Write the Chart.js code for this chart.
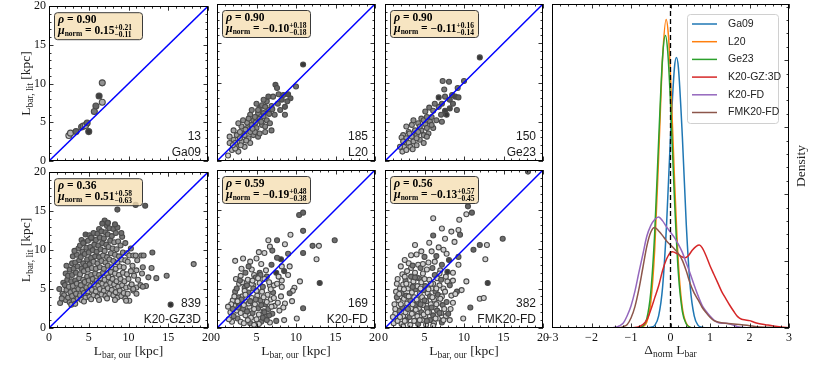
<!DOCTYPE html>
<html>
<head>
<meta charset="utf-8">
<script src="https://cdn.jsdelivr.net/npm/chart.js@4.4.0/dist/chart.umd.min.js"></script>
<style>
  body { margin: 0; background: #fff; width: 831px; height: 365px; overflow: hidden; position: relative; }
  canvas { position: absolute; }
</style>
</head>
<body>
<script>
var serif = "'Liberation Serif', 'DejaVu Serif', serif";
var sans = "'Liberation Sans Narrow', 'Liberation Sans', sans-serif";

// ---- scatter panels: labels and stats
var panelNames = ['Ga09', 'L20', 'Ge23', 'K20-GZ3D', 'K20-FD', 'FMK20-FD'];
var panelCounts = ['13', '185', '150', '839', '169', '382'];
var rhoVals = ['0.90', '0.90', '0.90', '0.36', '0.59', '0.56'];
var muVals = ['0.15', '\u22120.10', '\u22120.11', '0.51', '\u22120.19', '\u22120.13'];
var muUp = ['+0.21', '+0.18', '+0.16', '+0.58', '+0.48', '+0.57'];
var muLo = ['\u22120.11', '\u22120.18', '\u22120.14', '\u22120.63', '\u22120.38', '\u22120.45'];
var axisTicks = [0, 5, 10, 15, 20];
var oneToOne = [0, 20];

// points: [L_bar,our, L_bar,lit, grey tone of marker]
var ga09Pts = [[2.5,3.3,.95],[2.7,3.6,.8],[3.4,3.8,.35],[4.1,4.4,.45],[4.3,4.5,.45],[4.6,4.6,.95],[4.8,4.9,.35],
  [5.0,3.8,.1],[5.7,6.4,.45],[5.9,7.1,.35],[6.3,8.4,.15],[6.7,10.1,.6],[6.7,7.6,.75]];

var l20Pts = [[10.9,12.3,.1],[7.4,9.7,.3],[10.0,9.5,.4],[7.8,8.5,.4],[7.1,8.2,.45],[8.2,7.8,.3],[9.3,8.0,.3],[9.0,8.5,.25],
  [8.6,6.9,.3],[8.6,5.9,.45],[7.7,7.3,.4],[6.9,7.0,.5],[6.3,7.6,.45],[5.9,7.8,.45],[6.5,6.5,.45],[5.4,6.7,.45],[5.2,6.1,.5],
  [6.9,3.9,.45],[4.2,5.9,.55],[4.6,5.2,.5],[5.7,4.6,.55],[6.1,3.7,.6],[5.0,4.2,.55],[3.8,4.2,.6],[3.1,4.4,.65],[3.3,3.5,.7],
  [2.5,3.3,.65],[2.1,2.7,.7],[1.6,2.3,.75],[1.4,0.7,.95],[1.9,1.4,.8],[2.5,1.8,.7],[3.1,2.5,.7],[4.0,2.9,.65],[4.6,3.3,.6],
  [5.2,3.1,.55],[4.2,2.3,.7],[3.5,1.8,.75],[2.7,1.2,.8],[2.3,1.6,.8],[2.9,3.7,.7],[3.8,4.9,.6],[4.4,4.6,.55],[4.8,5.6,.5],
  [5.4,5.4,.5],[5.9,6.1,.45],[6.3,5.2,.5],[5.2,6.5,.5],[5.7,7.1,.45],[6.5,8.2,.35],[7.6,9.3,.35],[8.0,6.5,.4],[7.3,5.9,.45],
  [6.7,4.8,.5],[6.1,4.4,.55],[3.3,5.2,.6],[2.7,4.8,.65],[2.1,3.9,.7],[1.6,3.1,.75],[2.3,2.3,.75],[2.9,2.9,.7],[3.5,3.3,.7],
  [4.2,3.7,.6],[4.8,3.7,.6],[5.4,3.5,.55],[4.0,5.4,.55],[4.4,6.5,.5],[5.0,7.3,.45],[6.1,6.9,.45],[8.4,8.4,.3],[8.9,7.6,.35],
  [3.0,2.0,.75],[3.7,2.6,.7],[4.5,4.1,.6],[5.6,5.0,.5],[2.0,2.0,.8],[3.6,4.0,.65],[4.9,4.9,.55],[6.6,6.0,.45],[7.0,6.6,.4],[5.9,5.7,.5]];

var ge23Pts = [[12.0,13.2,.1],[7.3,10.2,.45],[8.1,10.1,.4],[10.0,10.2,.4],[7.5,9.1,.45],[9.2,9.3,.4],[6.8,8.1,.1],[7.6,8.2,.4],
  [8.5,8.4,.3],[8.9,8.2,.2],[9.3,8.1,.3],[8.2,7.8,.3],[7.2,7.3,.35],[8.2,6.7,.2],[7.6,6.4,.15],[7.8,5.9,.1],[7.1,5.9,.4],
  [6.8,6.9,.45],[5.6,6.8,.45],[6.1,6.4,.5],[5.1,6.3,.5],[4.6,5.4,.55],[6.5,5.2,.5],[7.2,5.0,.45],[5.7,5.0,.55],[5.1,4.7,.6],
  [4.2,4.8,.6],[3.4,4.6,.65],[3.8,3.9,.65],[4.6,3.9,.6],[5.3,4.2,.55],[6.1,4.2,.55],[3.0,3.7,.7],[2.3,3.3,.7],[2.1,3.0,.75],
  [2.7,2.9,.7],[3.4,3.1,.7],[4.0,3.3,.65],[4.9,3.3,.6],[5.5,3.5,.6],[4.4,2.7,.65],[3.6,2.5,.7],[3.0,2.3,.75],[2.3,2.5,.75],
  [2.4,1.8,.8],[2.2,1.2,.8],[3.2,1.8,.75],[4.0,2.0,.7],[4.9,2.3,.65],[4.2,3.7,.6],[4.9,5.2,.55],[5.9,5.6,.5],[5.3,5.6,.5],
  [4.4,4.4,.6],[3.6,5.2,.6],[9.1,6.5,.4],[8.6,7.3,.35],[6.3,7.3,.45],[2.7,4.4,.7],[1.9,1.8,.8],[2.7,1.4,.8],[3.5,1.5,.75],
  [4.0,2.9,.65],[3.1,3.5,.7],[5.9,4.6,.55],[5.3,3.1,.6]];

var gz3dPts = [[1.4,3.2,.62],[1.7,4.4,.62],[1.3,5.0,.45],[1.8,5.8,.45],
  [2.1,3.6,.62],[1.9,4.2,.62],[2.2,4.9,.62],[2.0,5.5,.45],[2.3,6.2,.45],[2.1,7.0,.45],
  [2.6,3.3,.62],[2.4,3.9,.62],[2.7,4.6,.62],[2.5,5.3,.62],[2.8,6.0,.45],[2.4,6.7,.45],[2.6,7.5,.45],[2.9,8.3,.45],
  [3.1,3.5,.62],[2.9,4.1,.62],[3.2,4.8,.62],[3.0,5.4,.62],[3.3,6.1,.45],[2.9,6.8,.45],[3.1,7.6,.45],[3.3,8.4,.45],[3.0,9.2,.45],
  [3.6,3.8,.62],[3.4,4.4,.62],[3.7,5.0,.62],[3.5,5.7,.62],[3.8,6.4,.62],[3.4,7.1,.45],[3.6,7.9,.45],[3.8,8.7,.45],[3.5,9.4,.45],[3.7,10.2,.45],
  [4.1,3.6,.78],[3.9,4.2,.62],[4.2,4.9,.62],[4.0,5.5,.62],[4.3,6.2,.62],[3.9,6.9,.62],[4.1,7.6,.45],[4.3,8.3,.45],[4.0,9.1,.45],[4.2,9.8,.45],[3.9,10.6,.45],[4.1,11.3,.45],
  [4.6,3.9,.78],[4.4,4.5,.62],[4.7,5.2,.62],[4.5,5.9,.62],[4.8,6.6,.62],[4.4,7.3,.62],[4.6,8.0,.45],[4.8,8.8,.45],[4.5,9.5,.45],[4.7,10.3,.45],[4.4,11.0,.45],[4.6,12.0,.3],
  [5.1,4.0,.78],[4.9,4.7,.78],[5.2,5.4,.62],[5.0,6.1,.62],[5.3,6.8,.62],[4.9,7.5,.62],[5.1,8.2,.45],[5.3,9.0,.45],[5.0,9.7,.45],[5.2,10.4,.45],[4.9,11.2,.45],[5.1,11.9,.4],
  [5.6,4.2,.78],[5.4,4.9,.78],[5.7,5.6,.78],[5.5,6.3,.62],[5.8,7.0,.62],[5.4,7.7,.62],[5.6,8.5,.62],[5.8,9.2,.45],[5.5,10.0,.45],[5.7,10.7,.45],[5.4,11.5,.45],[5.6,12.2,.4],
  [6.1,4.0,.78],[5.9,4.7,.78],[6.2,5.4,.78],[6.0,6.1,.62],[6.3,6.8,.62],[5.9,7.6,.62],[6.1,8.3,.62],[6.3,9.1,.45],[6.0,9.8,.45],[6.2,10.6,.45],[5.9,11.3,.45],[6.1,12.1,.4],[6.3,12.7,.4],
  [6.6,4.3,.78],[6.4,5.0,.78],[6.7,5.7,.78],[6.5,6.4,.78],[6.8,7.1,.62],[6.4,7.8,.62],[6.6,8.6,.62],[6.8,9.3,.62],[6.5,10.1,.45],[6.7,10.9,.45],[6.4,11.6,.45],[6.6,12.4,.4],
  [7.1,4.1,.78],[6.9,4.8,.78],[7.2,5.5,.78],[7.0,6.2,.78],[7.3,6.9,.78],[6.9,7.6,.62],[7.1,8.4,.62],[7.3,9.1,.62],[7.0,9.9,.62],[7.2,10.7,.45],[6.9,11.5,.45],[7.1,12.3,.4],[7.3,13.1,.4],[7.0,13.8,.35],
  [7.6,4.4,.78],[7.4,5.1,.78],[7.7,5.8,.78],[7.5,6.5,.78],[7.8,7.2,.78],[7.4,8.0,.62],[7.6,8.8,.62],[7.8,9.6,.62],[7.5,10.4,.62],[7.7,11.2,.45],[7.4,12.0,.45],[7.6,12.8,.4],[7.4,13.5,.35],
  [8.1,4.2,.78],[7.9,4.9,.78],[8.2,5.6,.78],[8.0,6.3,.78],[8.3,7.0,.78],[7.9,7.8,.78],[8.1,8.6,.62],[8.3,9.4,.62],[8.0,10.2,.62],[8.2,11.0,.62],[7.9,11.8,.45],[8.1,12.7,.4],
  [8.6,3.9,.78],[8.4,4.6,.78],[8.7,5.3,.78],[8.5,6.0,.78],[8.8,6.8,.78],[8.4,7.6,.78],[8.6,8.4,.78],[8.8,9.2,.62],[8.5,10.1,.62],[8.7,11.1,.62],[8.4,12.2,.45],[8.6,12.9,.4],
  [9.1,4.1,.78],[8.9,4.8,.78],[9.2,5.5,.78],[9.0,6.3,.78],[9.3,7.1,.78],[8.9,7.9,.78],[9.1,8.8,.78],[9.3,9.7,.62],[9.0,10.6,.62],[9.2,11.7,.45],
  [9.6,3.8,.78],[9.4,4.5,.78],[9.7,5.2,.78],[9.5,6.0,.78],[9.8,6.9,.78],[9.4,7.8,.78],[9.6,8.7,.78],[9.8,9.6,.78],
  [10.1,3.5,.82],[9.9,4.4,.78],[10.2,5.3,.78],[10.0,6.3,.78],[10.3,7.3,.78],[9.9,8.5,.78],[10.1,9.3,.78],
  [10.6,4.8,.78],[10.4,5.6,.78],[10.7,6.7,.78],[10.5,8.0,.78],[10.6,9.3,.7],
  [11.0,5.2,.78],[11.2,6.2,.78],[11.0,7.4,.78],[11.1,8.7,.7],[10.9,9.3,.7],
  [11.5,5.5,.7],[11.7,7.0,.7],[11.6,9.3,.6],
  [8.6,15.2,.3],[12.1,15.7,.3],[10.9,15.8,.35],[7.4,13.5,.35],[13.0,9.7,.4],[11.9,9.3,.55],[11.8,7.8,.6],[12.9,7.7,.6],
  [12.5,6.5,.6],[12.2,5.4,.6],[11.8,5.3,.6],[11.0,4.4,.7],[9.7,3.5,.8],[10.6,5.0,.7],[13.5,6.4,.6],[14.8,6.7,.55],
  [18.2,8.2,.6],[15.3,3.0,.05],
  [2.8,3.0,.7],[3.3,3.1,.75],[4.4,3.4,.78],[5.3,3.7,.78],[6.3,3.6,.8],[7.3,3.8,.8],[8.3,3.6,.8],[1.6,3.8,.6],[2.2,8.0,.45],
  [3.2,9.9,.45],[4.3,10.9,.4],[5.3,11.6,.4],[6.7,13.4,.35],[8.3,13.3,.35],[9.1,12.2,.4],[9.6,10.9,.5],[10.3,10.2,.5]];

var k20fdPts = [[10.4,14.3,.35],[10.9,14.6,.35],[10.9,12.3,.4],[9.3,11.8,.95],[6.5,11.1,.95],[7.6,11.1,.4],[6.7,10.3,.95],
  [8.6,10.6,.95],[5.3,9.6,.95],[12.1,10.4,.4],[12.9,10.4,.95],[14.9,11.1,.4],[10.9,9.5,.35],[12.6,8.7,.95],[9.0,9.4,.45],
  [8.1,8.7,.1],[7.6,8.9,.4],[6.9,8.0,.35],[5.6,8.1,.95],[4.2,8.4,.95],[3.1,7.5,.95],[4.7,6.7,.95],[5.4,7.0,.4],[7.5,7.0,.1],
  [8.5,7.2,.2],[9.0,6.7,.95],[9.2,7.8,.95],[8.2,7.8,.95],[6.3,6.5,.45],[6.7,5.4,.95],[7.2,5.4,.95],[8.2,5.2,.95],[10.5,5.9,.95],
  [9.8,5.1,.95],[9.6,4.7,.95],[9.2,4.4,.4],[8.1,4.0,.95],[8.6,3.1,.95],[10.9,2.5,.4],[10.1,1.2,.95],[8.5,1.0,.95],[13.0,5.7,.15],
  [7.8,6.5,.95],[4.6,5.4,.95],
  [2.0,3.5,.95],[2.3,4.6,.5],[2.5,2.2,.95],[2.6,1.2,.5],[2.8,5.6,.95],[2.9,3.0,.45],[3.0,0.8,.95],[3.2,4.0,.95],[3.3,2.4,.5],
  [3.5,5.1,.45],[3.6,1.6,.95],[3.7,3.3,.95],[3.9,6.1,.95],[4.0,4.5,.45],[4.1,2.7,.95],[4.2,0.6,.5],[4.4,3.8,.95],[4.5,1.9,.45],
  [4.6,5.0,.5],[4.8,3.0,.95],[4.9,6.4,.45],[5.0,1.1,.95],[5.1,4.1,.95],[5.2,2.5,.45],[5.4,5.7,.95],[5.5,3.5,.5],[5.6,0.8,.45],
  [5.7,4.6,.95],[5.9,2.1,.95],[6.0,6.2,.95],[6.1,3.0,.4],[6.2,1.4,.5],[6.4,4.2,.95],[6.5,2.4,.45],[6.7,0.7,.95],[6.8,3.6,.95],
  [7.0,1.8,.45],[7.1,4.5,.45],[7.3,2.8,.95],[7.5,0.9,.45],[1.7,2.0,.95],[1.9,0.8,.95],[2.2,2.8,.95],[2.4,6.2,.95],[2.7,3.9,.45],
  [3.0,6.6,.95],[3.4,0.6,.95],[3.8,2.1,.45],[4.3,1.3,.95],[4.7,0.4,.95],[5.3,1.7,.95],[5.8,5.2,.45],[6.6,5.8,.95],[3.1,3.6,.5],
  [4.0,3.1,.95],[4.9,3.6,.5],[5.5,6.7,.45],[2.1,1.5,.5],[1.5,1.1,.95],[3.5,4.7,.95],[6.3,3.3,.95],[7.7,3.2,.95],[7.9,2.2,.95],
  [8.2,6.0,.95],[4.4,7.4,.95],[3.6,7.0,.45],[5.0,8.8,.95],[6.0,9.5,.95],[7.0,9.8,.45],[6.2,7.3,.95],[2.3,8.5,.95],
  [1.8,3.0,.95],[2.2,4.0,.95],[2.5,5.0,.45],[2.7,2.6,.5],[3.0,1.9,.95],[3.2,5.8,.95],[3.4,2.9,.95],[3.6,4.2,.95],[3.9,1.0,.95],
  [4.2,3.4,.45],[4.4,5.6,.95],[4.7,2.4,.95],[5.0,4.7,.95],[5.3,0.5,.95],[5.6,2.9,.45],[5.8,1.3,.4],[6.0,2.0,.4],[6.3,1.0,.45],
  [6.6,1.6,.4],[6.9,2.7,.95],[7.2,3.8,.95],[5.9,3.9,.95],[3.8,5.4,.45],[2.6,3.4,.95],[2.0,2.4,.5],[4.5,6.0,.95],[5.2,6.3,.95],
  [6.8,4.9,.95],[7.6,5.6,.95],[8.4,2.6,.95],[9.5,3.4,.95],[3.3,8.8,.95],[4.0,7.8,.45],[1.4,2.7,.95],[2.9,6.0,.45]];

var fmk20Pts = [[18.1,19.8,.4],[10.5,15.4,.35],[10.3,14.4,.95],[11.0,14.6,.35],[9.4,13.7,.95],[6.1,13.9,.95],[7.2,12.6,.95],
  [9.3,12.4,.95],[9.5,11.8,.4],[8.4,12.2,.95],[6.1,11.7,.4],[7.6,11.3,.95],[3.8,10.5,.95],[4.6,9.7,.95],[5.9,9.7,.95],
  [6.8,10.2,.95],[12.0,10.5,.35],[12.9,10.5,.95],[14.9,11.3,.4],[11.2,9.9,.35],[12.7,8.7,.95],[2.5,8.6,.95],[9.3,9.0,.4],
  [8.1,8.6,.2],[7.2,8.0,.4],[7.9,7.1,.1],[8.6,7.0,.95],[9.3,8.0,.95],[10.3,5.9,.95],[13.0,5.7,.15],[9.7,4.8,.95],[9.1,4.6,.4],
  [12.0,3.7,.95],[12.5,3.8,.95],[10.8,2.6,.4],[9.9,1.2,.95],[8.2,1.0,.95],[5.0,9.0,.45],[5.6,10.8,.95],[4.2,8.0,.95],
  [3.3,7.6,.95],[6.5,9.1,.4],[7.8,9.4,.95],
  [1.1,0.6,.95],[1.3,1.8,.95],[1.2,3.0,.95],[1.4,4.6,.95],
  [1.6,0.9,.95],[1.8,2.2,.5],[1.7,3.5,.95],[1.9,5.0,.95],[1.6,6.2,.95],
  [2.1,0.5,.95],[2.3,1.5,.95],[2.2,2.6,.45],[2.4,3.7,.95],[2.1,4.4,.5],[2.3,5.5,.95],[2.2,6.8,.95],
  [2.7,1.0,.5],[2.6,2.0,.95],[2.8,3.1,.95],[2.7,4.1,.45],[2.9,5.0,.95],[2.6,6.0,.45],[2.8,7.2,.95],
  [3.2,0.4,.95],[3.1,1.4,.45],[3.3,2.5,.95],[3.2,3.5,.5],[3.4,4.5,.95],[3.1,5.5,.95],[3.3,6.5,.45],
  [3.7,0.9,.95],[3.6,1.9,.95],[3.8,2.9,.45],[3.7,3.9,.95],[3.9,4.9,.45],[3.6,5.9,.95],[3.8,7.0,.95],
  [4.2,0.5,.45],[4.1,1.5,.95],[4.3,2.4,.95],[4.2,3.3,.45],[4.4,4.3,.95],[4.1,5.3,.95],[4.3,6.3,.45],
  [4.7,1.0,.95],[4.6,2.0,.45],[4.8,2.9,.95],[4.7,3.9,.95],[4.9,4.8,.45],[4.6,5.8,.95],[4.8,6.9,.95],
  [5.2,0.4,.95],[5.1,1.5,.95],[5.3,2.5,.45],[5.2,3.4,.95],[5.4,4.4,.95],[5.1,5.3,.45],[5.3,7.4,.95],
  [5.7,1.0,.45],[5.6,2.0,.95],[5.8,3.0,.95],[5.7,4.0,.45],[5.9,5.0,.95],[5.6,6.1,.95],
  [6.2,0.6,.95],[6.1,1.6,.4],[6.3,2.6,.95],[6.2,3.6,.95],[6.4,4.6,.45],[6.1,5.6,.95],[6.3,6.7,.45],
  [6.7,1.2,.95],[6.6,2.2,.45],[6.8,3.2,.95],[6.7,4.2,.4],[6.9,5.4,.95],[6.6,6.3,.95],
  [7.2,0.7,.4],[7.1,1.9,.95],[7.3,2.9,.45],[7.2,4.0,.95],[7.4,5.0,.95],[7.1,6.1,.45],
  [7.7,1.5,.95],[7.8,3.3,.45],[7.6,4.6,.95],[7.9,5.9,.95],
  [8.3,2.4,.95],[8.4,4.1,.95],[8.2,5.4,.45],
  [2.0,7.8,.95],[3.0,8.2,.95],[4.0,9.3,.95],[4.5,7.6,.45],[5.5,8.3,.95],[6.0,7.6,.45],[7.0,7.3,.95],[3.5,7.9,.45],
  [1.5,5.6,.95],[2.5,6.5,.95],
  [1.3,2.4,.95],[1.5,3.9,.5],[1.9,1.4,.95],[2.0,3.0,.95],[2.4,4.9,.95],[2.5,0.9,.95],[2.9,2.4,.5],[3.0,4.0,.95],[3.4,1.8,.95],
  [3.5,3.0,.95],[3.5,5.2,.45],[3.9,2.3,.95],[4.0,3.6,.95],[4.0,6.4,.95],[4.4,1.0,.95],[4.5,3.0,.45],[4.5,5.0,.95],[4.9,1.7,.95],
  [5.0,3.5,.45],[5.0,6.2,.95],[5.4,2.0,.95],[5.5,4.9,.95],[5.9,2.6,.45],[6.0,3.9,.95],[6.4,1.2,.95],[6.5,3.0,.95],[6.5,5.0,.95],
  [6.9,1.9,.45],[7.0,3.7,.95],[7.5,2.4,.95],[7.4,1.0,.95],[8.0,1.8,.4],[8.6,3.2,.95],[1.8,4.3,.95],[2.7,5.6,.95],[3.8,6.4,.45],
  [5.8,5.6,.95],[6.9,6.9,.95],[7.7,6.5,.95],[8.6,6.0,.95],[8.9,4.3,.95],[3.3,9.2,.95],[4.8,8.1,.95],[6.3,8.4,.95],[7.4,9.9,.95],
  [8.8,10.9,.95],[5.3,0.9,.45],[6.1,0.3,.95],[2.3,0.2,.95],[1.0,1.4,.95]];

var panelPts = [ga09Pts, l20Pts, ge23Pts, gz3dPts, k20fdPts, fmk20Pts];

// ---- KDE panel
var kdeNames = ['Ga09', 'L20', 'Ge23', 'K20-GZ:3D', 'K20-FD', 'FMK20-FD'];
var kdeColors = ['#1f77b4', '#ff7f0e', '#2ca02c', '#d62728', '#9467bd', '#8c564b'];
var kdeTicks = [-3, -2, -1, 0, 1, 2, 3];

var ga09KdeX = [-0.6, -0.5, -0.4, -0.3, -0.2, -0.1, 0, 0.1, 0.15, 0.2, 0.3, 0.4, 0.5, 0.6, 0.7, 0.8, 0.9];
var ga09KdeY = [0, 0.01, 0.04, 0.18, 0.61, 1.54, 2.86, 3.89, 4.04, 3.89, 2.86, 1.54, 0.61, 0.18, 0.04, 0.01, 0];
var l20KdeX = [-0.8, -0.7, -0.6, -0.5, -0.4, -0.3, -0.2, -0.11, -0.05, 0, 0.1, 0.2, 0.3, 0.4, 0.5, 0.6];
var l20KdeY = [0, 0.02, 0.09, 0.38, 1.17, 2.56, 4.04, 4.61, 4.35, 3.78, 2.24, 0.96, 0.30, 0.07, 0.01, 0];
var ge23KdeX = [-0.8, -0.7, -0.6, -0.5, -0.4, -0.3, -0.2, -0.13, -0.07, 0, 0.1, 0.2, 0.3, 0.4, 0.5, 0.6];
var ge23KdeY = [0, 0.03, 0.14, 0.53, 1.42, 2.80, 4.05, 4.37, 4.13, 3.37, 1.93, 0.81, 0.25, 0.06, 0.01, 0];
var gz3dKdeX = [-1.0, -0.86, -0.7, -0.6, -0.5, -0.4, -0.3, -0.2, -0.1, 0, 0.05, 0.1, 0.2, 0.3, 0.37, 0.45, 0.55, 0.65, 0.73,
  0.8, 0.9, 1.0, 1.1, 1.2, 1.3, 1.4, 1.5, 1.6, 1.7, 1.8, 1.9, 2.0, 2.1, 2.2, 2.4, 2.6, 2.8, 3.0];
var gz3dKdeY = [0, 0.01, 0.05, 0.12, 0.27, 0.45, 0.63, 0.86, 1.03, 1.13, 1.14, 1.13, 1.10, 1.06, 1.05, 1.08, 1.16, 1.22, 1.24,
  1.20, 1.08, 0.93, 0.80, 0.67, 0.54, 0.44, 0.34, 0.25, 0.17, 0.13, 0.12, 0.11, 0.09, 0.07, 0.05, 0.03, 0.015, 0.005];
var k20fdKdeX = [-1.5, -1.4, -1.3, -1.2, -1.1, -1.0, -0.9, -0.8, -0.7, -0.6, -0.5, -0.4, -0.3, -0.2, -0.1, 0, 0.1, 0.2, 0.3,
  0.4, 0.5, 0.6, 0.7, 0.8, 0.9, 1.0, 1.1, 1.2, 1.3, 1.4, 1.5, 1.6, 1.7, 1.8, 2.0];
var k20fdKdeY = [0, 0.01, 0.03, 0.07, 0.18, 0.33, 0.55, 0.83, 1.10, 1.37, 1.53, 1.62, 1.66, 1.60, 1.51, 1.43, 1.35, 1.25, 1.13,
  0.97, 0.81, 0.64, 0.48, 0.34, 0.25, 0.18, 0.12, 0.08, 0.07, 0.07, 0.06, 0.04, 0.02, 0.01, 0];
var fmk20KdeX = [-1.3, -1.2, -1.1, -1.0, -0.9, -0.8, -0.7, -0.6, -0.5, -0.4, -0.3, -0.2, -0.1, 0, 0.1, 0.2, 0.3, 0.4, 0.5,
  0.6, 0.7, 0.8, 0.9, 1.0, 1.1, 1.2, 1.4, 1.6, 1.8, 2.0, 2.2, 2.5, 2.8];
var fmk20KdeY = [0, 0.02, 0.05, 0.15, 0.32, 0.58, 0.90, 1.22, 1.43, 1.50, 1.45, 1.38, 1.30, 1.24, 1.18, 1.11, 1.01, 0.85, 0.66,
  0.52, 0.42, 0.31, 0.23, 0.16, 0.11, 0.09, 0.07, 0.06, 0.05, 0.035, 0.02, 0.01, 0];
var kdeXs = [ga09KdeX, l20KdeX, ge23KdeX, gz3dKdeX, k20fdKdeX, fmk20KdeX];
var kdeYs = [ga09KdeY, l20KdeY, ge23KdeY, gz3dKdeY, k20fdKdeY, fmk20KdeY];
var densityMax = 4.84;

// ---- helpers
function grey(t) {
  var v = Math.round((0.15 + 0.7 * t) * 255);
  return 'rgb(' + v + ',' + v + ',' + v + ')';
}

// draw a row of text pieces (sub/superscripts as separate pieces)
function drawRuns(ctx, parts, x, y, align) {
  var w = 0;
  parts.forEach(function (p) {
    ctx.font = p.f;
    if (p.sup !== undefined) p.w = Math.max(ctx.measureText(p.sup).width, ctx.measureText(p.sub).width);
    else p.w = ctx.measureText(p.t).width;
    w += p.w;
  });
  var cx = align === 'center' ? x - w / 2 : x;
  ctx.textAlign = 'left';
  ctx.textBaseline = 'alphabetic';
  parts.forEach(function (p) {
    ctx.font = p.f;
    if (p.sup !== undefined) {
      ctx.fillText(p.sup, cx, y - 4.5);
      ctx.fillText(p.sub, cx, y + 3);
    } else {
      ctx.fillText(p.t, cx, y + (p.dy || 0));
    }
    cx += p.w;
  });
}

function axisTitle(main, sub, tail) {
  var parts = [{t: main, f: '13.5px ' + serif}, {t: sub, f: '9.5px ' + serif, dy: 3}];
  if (tail) parts.push({t: tail, f: '13.5px ' + serif});
  return parts;
}

function inTicks(ctx, ca, scale, step, major, horiz, sides) {
  ctx.beginPath();
  for (var k = 0; ; k++) {
    var v = scale.min + k * step;
    if (v > scale.max + 1e-9) break;
    var isMajor = Math.abs(v / major - Math.round(v / major)) < 1e-6;
    var len = isMajor ? 4.5 : 2.5;
    var p = Math.round(scale.getPixelForValue(v)) + 0.5;
    if (horiz) {
      if (sides.indexOf('b') >= 0) { ctx.moveTo(p, ca.bottom); ctx.lineTo(p, ca.bottom - len); }
      if (sides.indexOf('t') >= 0) { ctx.moveTo(p, ca.top); ctx.lineTo(p, ca.top + len); }
    } else {
      if (sides.indexOf('l') >= 0) { ctx.moveTo(ca.left, p); ctx.lineTo(ca.left + len, p); }
      if (sides.indexOf('r') >= 0) { ctx.moveTo(ca.right, p); ctx.lineTo(ca.right - len, p); }
    }
  }
  ctx.lineWidth = 0.8;
  ctx.strokeStyle = '#000';
  ctx.stroke();
}

function frame(ctx, ca) {
  ctx.lineWidth = 1;
  ctx.strokeStyle = '#000';
  ctx.strokeRect(Math.round(ca.left) + 0.5, Math.round(ca.top) + 0.5, Math.round(ca.width) - 1, Math.round(ca.height) - 1);
}

function panelDeco(i) {
  var r = Math.floor(i / 3), c = i % 3;
  return {
    id: 'deco' + i,
    afterDraw: function (chart) {
      var ctx = chart.ctx, ca = chart.chartArea;
      ctx.save();
      frame(ctx, ca);
      inTicks(ctx, ca, chart.scales.x, 1, 5, true, 'bt');
      inTicks(ctx, ca, chart.scales.y, 1, 5, false, 'lr');

      // stats box
      var bx = ca.left + 5, by = ca.top + 6;
      ctx.beginPath();
      ctx.roundRect(bx + 0.5, by + 0.5, 88, 27, 3);
      ctx.fillStyle = 'rgba(245,222,179,0.8)';
      ctx.fill();
      ctx.lineWidth = 1;
      ctx.strokeStyle = '#3a3a3a';
      ctx.stroke();
      ctx.fillStyle = '#000';
      drawRuns(ctx, [{t: '\u03c1', f: 'bold italic 12px ' + serif}, {t: ' = ' + rhoVals[i], f: 'bold 11.5px ' + serif}], bx + 4, by + 11, 'left');
      drawRuns(ctx, [
        {t: '\u03bc', f: 'bold italic 12px ' + serif},
        {t: 'norm', f: 'bold 7.5px ' + serif, dy: 2},
        {t: ' = ' + muVals[i], f: 'bold 11.5px ' + serif},
        {sup: muUp[i], sub: muLo[i], f: 'bold 7.5px ' + serif}
      ], bx + 4, by + 22, 'left');

      // count and sample name
      ctx.font = '12px ' + sans;
      ctx.fillStyle = '#1a1a1a';
      ctx.textAlign = 'right';
      ctx.textBaseline = 'middle';
      ctx.fillText(panelCounts[i], ca.right - 7, ca.bottom - 24);
      ctx.fillText(panelNames[i], ca.right - 7, ca.bottom - 8);

      ctx.fillStyle = '#222';
      if (c === 0) {
        ctx.save();
        ctx.translate(ca.left - 19, (ca.top + ca.bottom) / 2);
        ctx.rotate(-Math.PI / 2);
        drawRuns(ctx, axisTitle('L', 'bar, lit', ' [kpc]'), 0, 0, 'center');
        ctx.restore();
      }
      if (r === 1) {
        drawRuns(ctx, axisTitle('L', 'bar, our', ' [kpc]'), (ca.left + ca.right) / 2, ca.bottom + 27, 'center');
      }
      ctx.restore();
    }
  };
}

var cols = [49, 217, 385], colW = [159, 158, 158];
var rows = [4, 170], rowH = [157, 158];

function makeCanvas(left, top, w, h) {
  var cv = document.createElement('canvas');
  cv.width = w; cv.height = h;
  cv.style.left = left + 'px'; cv.style.top = top + 'px';
  cv.style.width = w + 'px'; cv.style.height = h + 'px';
  document.body.appendChild(cv);
  return cv;
}

function tickFont() {
  return {family: serif, size: 12};
}

for (var i = 0; i < 6; i++) {
  var r = Math.floor(i / 3), c = i % 3;
  var W = colW[c], H = rowH[r];
  var cv = makeCanvas(cols[c] - 36, rows[r] - 8, W + 50, H + 45);
  var pts = panelPts[i];
  new Chart(cv, {
    type: 'scatter',
    data: {
      datasets: [
        {
          data: oneToOne.map(function (v) { return {x: v, y: v}; }),
          showLine: true, borderColor: '#0000ff', borderWidth: 1.5, pointRadius: 0, order: 0
        },
        {
          data: pts.map(function (p) { return {x: p[0], y: p[1]}; }),
          pointBackgroundColor: pts.map(function (p) { return grey(p[2]); }),
          pointBorderColor: '#4a4a4a',
          pointBorderWidth: 1.1,
          pointRadius: i === 0 ? 3 : 2.5,
          order: 1
        }
      ]
    },
    options: {
      responsive: false, animation: false, devicePixelRatio: 1, events: [],
      layout: {padding: {top: 8, right: 14, left: 0, bottom: 0}},
      plugins: {legend: {display: false}, tooltip: {enabled: false}},
      scales: {
        x: {
          type: 'linear', min: 0, max: 20,
          afterBuildTicks: function (s) { s.ticks = axisTicks.map(function (v) { return {value: v}; }); },
          ticks: {display: r === 1, font: tickFont(), color: '#111', padding: 3, maxRotation: 0, autoSkip: false},
          grid: {display: false, drawTicks: false}, border: {display: false},
          afterFit: function (s) { s.height = 37; }
        },
        y: {
          type: 'linear', min: 0, max: 20,
          afterBuildTicks: function (s) { s.ticks = axisTicks.map(function (v) { return {value: v}; }); },
          ticks: {display: c === 0, font: tickFont(), color: '#111', padding: 3, autoSkip: false},
          grid: {display: false, drawTicks: false}, border: {display: false},
          afterFit: function (s) { s.width = 36; }
        }
      }
    },
    plugins: [panelDeco(i)]
  });
}

// ---- KDE panel
var kdeDeco = {
  id: 'kdeDeco',
  afterDraw: function (chart) {
    var ctx = chart.ctx, ca = chart.chartArea;
    ctx.save();
    frame(ctx, ca);
    inTicks(ctx, ca, chart.scales.x, 0.2, 1, true, 'bt');
    inTicks(ctx, ca, chart.scales.y, 0.2, 1, false, 'r');

    // legend
    var lx = ca.right - 102, ly = ca.top + 10;
    ctx.beginPath();
    ctx.roundRect(lx + 0.5, ly + 0.5, 91, 109, 3);
    ctx.fillStyle = 'rgba(255,255,255,0.8)';
    ctx.fill();
    ctx.lineWidth = 1;
    ctx.strokeStyle = '#d0d0d0';
    ctx.stroke();
    ctx.font = '10.5px ' + sans;
    ctx.textAlign = 'left';
    ctx.textBaseline = 'middle';
    kdeNames.forEach(function (nm, k) {
      var yy = ly + 10 + k * 17.7;
      ctx.beginPath();
      ctx.moveTo(lx + 5, yy); ctx.lineTo(lx + 30, yy);
      ctx.strokeStyle = kdeColors[k];
      ctx.lineWidth = 1.5;
      ctx.stroke();
      ctx.fillStyle = '#222';
      ctx.fillText(nm, lx + 41, yy);
    });

    ctx.fillStyle = '#222';
    drawRuns(ctx, [
      {t: '\u0394', f: '13.5px ' + serif},
      {t: 'norm', f: '9.5px ' + serif, dy: 3},
      {t: ' L', f: '13.5px ' + serif},
      {t: 'bar', f: '9.5px ' + serif, dy: 3}
    ], (ca.left + ca.right) / 2, ca.bottom + 26, 'center');

    ctx.save();
    ctx.translate(ca.right + 15.5, (ca.top + ca.bottom) / 2);
    ctx.rotate(-Math.PI / 2);
    ctx.font = '13.5px ' + serif;
    ctx.textAlign = 'center';
    ctx.textBaseline = 'alphabetic';
    ctx.fillText('Density', 0, 0);
    ctx.restore();
    ctx.restore();
  }
};

var kdeSets = kdeNames.map(function (nm, k) {
  return {
    label: nm,
    data: kdeXs[k].map(function (x, j) { return {x: x, y: kdeYs[k][j]}; }),
    showLine: true, borderColor: kdeColors[k], borderWidth: 1.5, pointRadius: 0,
    cubicInterpolationMode: 'monotone', order: 6 - k
  };
});
kdeSets.push({
  label: 'zero',
  data: [{x: 0, y: 0}, {x: 0, y: densityMax}],
  showLine: true, borderColor: '#000', borderWidth: 1.3, borderDash: [5, 3], pointRadius: 0, order: 0
});

var kcv = makeCanvas(542, -4, 289, 369);
new Chart(kcv, {
  type: 'scatter',
  data: {datasets: kdeSets},
  options: {
    responsive: false, animation: false, devicePixelRatio: 1, events: [],
    layout: {padding: {top: 8, right: 42, left: 10, bottom: 0}},
    plugins: {legend: {display: false}, tooltip: {enabled: false}},
    scales: {
      x: {
        type: 'linear', min: -3, max: 3,
        afterBuildTicks: function (s) { s.ticks = kdeTicks.map(function (v) { return {value: v}; }); },
        ticks: {
          font: tickFont(), color: '#111', padding: 3, maxRotation: 0, autoSkip: false,
          callback: function (v) { return v < 0 ? '\u2212' + Math.abs(v) : String(v); }
        },
        grid: {display: false, drawTicks: false}, border: {display: false},
        afterFit: function (s) { s.height = 37; }
      },
      y: {type: 'linear', min: 0, max: densityMax, display: false}
    }
  },
  plugins: [kdeDeco]
});
</script>
</body>
</html>
